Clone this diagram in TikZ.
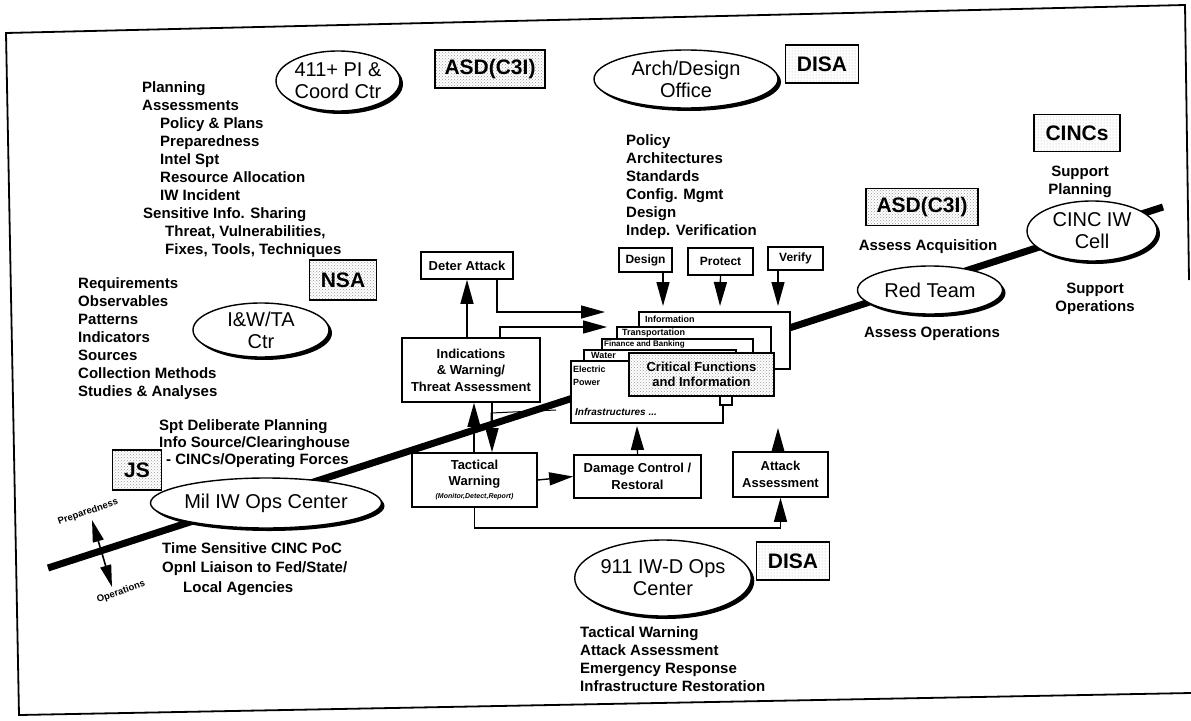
\documentclass[tikz,border=0pt]{standalone}
\usepackage{fontspec}
\setmainfont{Liberation Sans}
\usetikzlibrary{arrows.meta,shapes.geometric,shadows,patterns,backgrounds,calc}
\begin{document}
\begin{tikzpicture}[x=1pt,y=-1pt,
  lst/.style={font=\bfseries\fontsize{15}{18}\selectfont, align=left, anchor=north west, inner sep=0pt},
  lstc/.style={font=\bfseries\fontsize{15}{18}\selectfont, align=center, inner sep=0pt},
  ell/.style={ellipse, draw, line width=1.4pt, fill=white, inner sep=0pt, align=center,
    font=\fontsize{20}{22}\selectfont,
    drop shadow={shadow xshift=3pt, shadow yshift=-3pt, opacity=1, fill=black}},
  agency/.style={draw, line width=1.8pt, font=\bfseries\fontsize{21}{22}\selectfont, inner sep=0pt,
    preaction={fill=white}, pattern=crosshatch dots, pattern color=black!40},
  agencyl/.style={draw, line width=1.8pt, font=\bfseries\fontsize{21}{22}\selectfont, inner sep=0pt,
    preaction={fill=white}, pattern=dots, pattern color=black!30},
  sbox/.style={draw, line width=1.6pt, fill=white, align=center, inner sep=0pt,
    font=\bfseries\fontsize{13}{16.5}\selectfont},
  layer/.style={draw, line width=1.6pt, fill=white, anchor=north west, inner sep=0pt},
  tinyl/.style={font=\bfseries\fontsize{9}{9}\selectfont, inner sep=0pt, anchor=west},
  arr/.style={line width=1.4pt, -{Triangle[length=24pt,width=13pt]}},
  arr2/.style={line width=1.6pt, {Triangle[length=22pt,width=11pt]}-{Triangle[length=22pt,width=11pt]}},
  thickline/.style={line width=7pt},
  frame/.style={line width=1.8pt}
]
\useasboundingbox (0,0) rectangle (1191,720);
% frame
\coordinate (f1) at (6,33);
\coordinate (f2) at (1185,5);
\coordinate (f3) at (1189,280);
\coordinate (f4) at (1191,693);
\coordinate (f5) at (19,715);
\draw[frame] (f3) -- (f2) -- (f1) -- (f5) -- (f4);

% ---- top left
\node[lst] (plan) at (142,81) {Planning\\Assessments\\\hspace*{18pt}Policy \& Plans\\\hspace*{18pt}Preparedness\\\hspace*{18pt}Intel Spt\\\hspace*{18pt}Resource Allocation\\\hspace*{18pt}IW Incident\\\hspace*{1pt}Sensitive Info. Sharing\\\hspace*{23pt}Threat, Vulnerabilities,\\\hspace*{23pt}Fixes, Tools, Techniques};
\node[ell, minimum width=124pt, minimum height=60pt] (pl) at (338,81) {411+ PI \&\\Coord Ctr};
\node[agency, minimum width=110pt, minimum height=38pt] (asd1) at (490,69) {ASD(C3I)};

% ---- top middle
\node[ell, minimum width=184pt, minimum height=58pt] (arch) at (686,79) {Arch/Design\\Office};
\node[agencyl, minimum width=73pt, minimum height=38pt] (disa1) at (822,64) {DISA};
\node[lst] (archl) at (626,134) {Policy\\Architectures\\Standards\\Config. Mgmt\\Design\\Indep. Verification};

% ---- top right
\node[agencyl, minimum width=86pt, minimum height=37pt] (cincs) at (1077,133) {CINCs};
\node[lstc] (suppl) at (1080,182) {Support\\Planning};
\node[agency, minimum width=112pt, minimum height=37pt] (asd2) at (922,207) {ASD(C3I)};
\node[lstc] (acq) at (928,247) {Assess Acquisition};
\node[lstc] (asop) at (932,334) {Assess Operations};
\node[lstc] (supop) at (1095,299) {Support\\Operations};

% ---- left middle
\node[lst] (req) at (78,277) {Requirements\\Observables\\Patterns\\Indicators\\Sources\\Collection Methods\\Studies \& Analyses};
\node[agency, minimum width=67pt, minimum height=40pt] (nsa) at (343,280) {NSA};
\node[ell, minimum width=136pt, minimum height=54pt] (iwta) at (261,330) {I\&W/TA\\Ctr};
\node[lst, font=\bfseries\fontsize{15}{17}\selectfont] (spt) at (159,419) {Spt Deliberate Planning\\Info Source/Clearinghouse\\\hspace*{7pt}- CINCs/Operating Forces};
\node[agency, minimum width=49pt, minimum height=40pt] (js) at (137,470) {JS};
\node[lst, font=\bfseries\fontsize{15}{19.5}\selectfont] (tsens) at (162,542) {Time Sensitive CINC PoC\\Opnl Liaison to Fed/State/\\\hspace*{21pt}Local Agencies};

% ---- thick line ends
\coordinate (lineL) at (48,568);
\coordinate (lineR) at (1163,207);

% ---- infrastructure stack
\node[layer, minimum width=151pt, minimum height=57pt] (info) at (638,311) {};
\node[tinyl] (infoL) at (645,319) {Information};
\node[layer, minimum width=154pt, minimum height=63pt] (trans) at (616,326) {};
\node[tinyl] (transL) at (622,333) {Transportation};
\node[layer, minimum width=151pt, minimum height=52pt] (fin) at (601,338) {};
\node[tinyl, font=\bfseries\fontsize{8}{8}\selectfont] (finL) at (604,344.5) {Finance and Banking};
\node[layer, minimum width=152pt, minimum height=40pt] (water) at (583,349) {};
\node[tinyl] (waterL) at (591,355.5) {Water};
\node[layer, minimum width=152pt, minimum height=62pt] (elec) at (570,360) {};
\node[tinyl, align=left, font=\bfseries\fontsize{9}{13}\selectfont] (elecL) at (573,376) {Electric\\Power};
\node[tinyl, font=\bfseries\itshape\fontsize{10}{11}\selectfont] (infraL) at (575,412) {Infrastructures ...};
\node[draw, line width=1.4pt, fill=white, minimum width=12pt, minimum height=10pt, inner sep=0pt] (sq) at (726,400) {};
\node[draw, line width=2pt, preaction={fill=white}, pattern=crosshatch dots, pattern color=black!40,
  anchor=north west, minimum width=145pt, minimum height=43pt, inner sep=0pt] (crit) at (628,352) {};
\node[font=\bfseries\fontsize{13}{15}\selectfont, align=center, inner sep=0pt] (critL) at (crit.center) {Critical Functions\\and Information};

% ---- boxes
\node[sbox, minimum width=92pt, minimum height=27pt] (deter) at (467,265.5) {Deter Attack};
\node[sbox, minimum width=138pt, minimum height=64pt] (iw) at (471,370) {Indications\\\& Warning/\\Threat Assessment};
\node[sbox, minimum width=125pt, minimum height=54pt] (tw) at (474.5,480) {Tactical\\Warning\\[-4pt]{\fontsize{7}{8}\selectfont\itshape (Monitor,Detect,Report)}};
\node[sbox, minimum width=127pt, minimum height=43pt] (dc) at (637.5,476.5) {Damage Control /\\Restoral};
\node[sbox, minimum width=95pt, minimum height=45pt] (aa) at (780.5,474.5) {Attack\\Assessment};
\node[sbox, font=\bfseries\fontsize{12}{14}\selectfont, minimum width=53pt, minimum height=24pt] (design) at (645.5,260) {Design};
\node[sbox, font=\bfseries\fontsize{12}{14}\selectfont, minimum width=65pt, minimum height=27pt] (protect) at (720.5,261.5) {Protect};
\node[sbox, font=\bfseries\fontsize{12}{14}\selectfont, minimum width=55pt, minimum height=23pt] (verify) at (795.5,258.5) {Verify};

% ---- ellipses on line
\node[ell, minimum width=214pt, minimum height=50pt] (mil) at (266,503) {Mil IW Ops Center};
\node[ell, minimum width=145pt, minimum height=48pt] (red) at (930,290) {Red Team};
\node[ell, minimum width=130pt, minimum height=60pt] (cinc) at (1092,231) {CINC IW\\Cell};

% ---- bottom
\node[ell, minimum width=174pt, minimum height=76pt] (ops911) at (663,578) {911 IW-D Ops\\Center};
\node[agencyl, minimum width=73pt, minimum height=38pt] (disa2) at (793,561) {DISA};
\node[lst] (botl) at (580,626) {Tactical Warning\\Attack Assessment\\Emergency Response\\Infrastructure Restoration};

% ---- preparedness / operations
\coordinate (ppt) at (92,520);
\coordinate (opt) at (112,587);
\node[font=\bfseries\fontsize{9.5}{10}\selectfont, rotate=19, inner sep=0pt] (prep) at (88,512) {Preparedness};
\node[font=\bfseries\fontsize{9.5}{10}\selectfont, rotate=19, inner sep=0pt] (oper) at (121,592) {Operations};

\begin{pgfonlayer}{background}
\draw[thickline] (lineL) -- (lineR);
\end{pgfonlayer}
\draw[arr2] (opt) -- (ppt);

% ---- connectors
\coordinate (tipA) at (605,312);
\coordinate (tipB) at (607,327);
\coordinate (tipD) at (663,306);
\coordinate (tipP) at (720,306);
\coordinate (tipV) at (778,306);
\coordinate (tipDC) at (637,426);
\coordinate (tipAA) at (778,428);
\coordinate (bot) at (0,528);
\coordinate (stepA) at (491,421);
\coordinate (stepB) at (491,413);
\coordinate (stepC) at (556,410);

\draw[arr] (iw.north -| deter.south) -- (deter.south);
\draw[arr] ([xshift=30pt]deter.south) |- (tipA);
\draw[arr] ([xshift=29pt]iw.north) |- (tipB);
\draw[arr] ([xshift=-0.5pt]tw.north) -- ([xshift=-0.5pt]tw.north |- iw.south);
\draw[arr] ([xshift=21pt]iw.south) -- ([xshift=21pt]iw.south |- tw.north);
\draw[line width=1pt] (stepA) -- (stepB) -- (stepC);
\draw[arr] (tw.east) -- (dc.west);
\draw[arr] (dc.north) -- (tipDC);
\draw[arr] (tipAA |- aa.north) -- (tipAA);
\draw[arr] (tw.south) -- (tw.south |- bot) -| (aa.south);
\draw[arr] (tipD |- design.south) -- (tipD);
\draw[arr] (protect.south) -- (tipP);
\draw[arr] (tipV |- verify.south) -- (tipV);
\end{tikzpicture}
\end{document}
